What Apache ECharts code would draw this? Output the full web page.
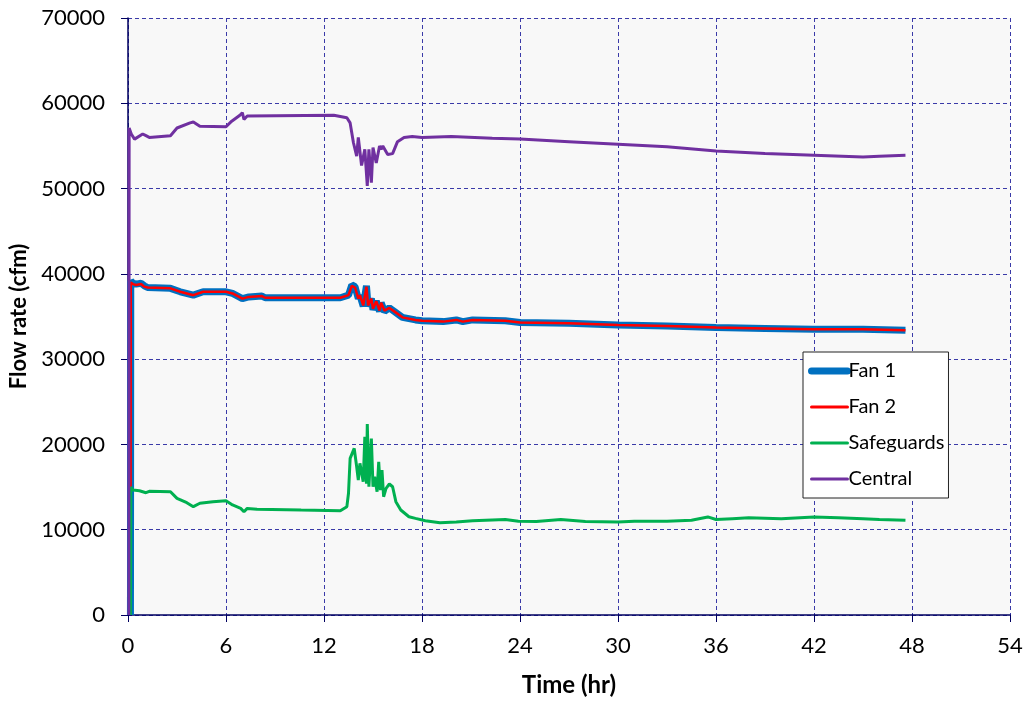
<!DOCTYPE html>
<html>
<head>
<meta charset="utf-8">
<script src="https://cdn.jsdelivr.net/npm/echarts@6/dist/echarts.min.js"></script>
<style>html,body{margin:0;padding:0;background:#fff}#c{width:1027px;height:703px}</style>
</head>
<body>
<div id="c"></div>
<script>
const seriesNames = ['Fan 1', 'Fan 2', 'Safeguards', 'Central'];
const xTicks = [0, 6, 12, 18, 24, 30, 36, 42, 48, 54];
const yTicks = [0, 10000, 20000, 30000, 40000, 50000, 60000, 70000];

const fanT = [0.15, 0.17, 0.3, 0.5, 0.8, 1.0, 1.2, 2.6, 3.2, 4.0, 4.6, 6.0, 6.4, 7.0, 7.4, 8.2, 8.4, 13.0, 13.5, 13.7, 13.9, 14.1, 14.2, 14.4, 14.6, 14.7, 14.9, 15.0, 15.2, 15.4, 15.5, 15.7, 16.0, 16.3, 16.8, 17.6, 18.0, 19.3, 20.1, 20.5, 21.1, 23.1, 24, 27, 30, 33, 36, 39, 42, 45, 47.6];
const fan1V = [0, 39200, 38900, 38800, 38900, 38600, 38400, 38300, 37900, 37500, 37900, 37900, 37700, 37100, 37300, 37400, 37200, 37200, 37500, 38700, 38500, 37100, 37500, 36200, 38600, 36200, 37100, 35800, 36800, 35600, 36600, 35600, 36000, 35600, 34900, 34600, 34500, 34400, 34600, 34400, 34600, 34500, 34300, 34200, 34000, 33900, 33700, 33600, 33500, 33500, 33400];
const fan2V = [0, 39000, 38800, 38700, 38800, 38500, 38400, 38300, 37900, 37500, 37900, 37900, 37700, 37100, 37300, 37400, 37200, 37200, 37500, 38600, 38400, 37100, 37500, 36300, 38500, 36300, 37100, 35900, 36800, 35700, 36600, 35700, 36000, 35600, 34900, 34600, 34500, 34400, 34600, 34400, 34600, 34500, 34300, 34200, 34000, 33900, 33700, 33600, 33500, 33500, 33400];

const sgT = [0.15, 0.17, 0.3, 0.7, 1.1, 1.3, 2.6, 3.0, 3.6, 4.0, 4.4, 5.2, 6.0, 6.4, 6.9, 7.1, 7.3, 7.9, 10.6, 13.0, 13.4, 13.5, 13.6, 13.85, 14.0, 14.1, 14.2, 14.3, 14.4, 14.5, 14.6, 14.65, 14.75, 14.9, 15.0, 15.1, 15.25, 15.35, 15.45, 15.55, 15.65, 15.8, 16.0, 16.2, 16.4, 16.7, 17.2, 17.6, 18.2, 19.1, 20.1, 21.1, 23.1, 23.9, 25, 26.5, 28, 30, 31, 33, 34.5, 35.5, 36, 37, 38, 40, 42, 43.5, 45, 46, 47.6];
const sgV = [0, 15000, 14650, 14570, 14340, 14500, 14460, 13680, 13170, 12700, 13100, 13290, 13400, 12900, 12500, 12100, 12500, 12400, 12300, 12230, 12700, 14270, 18370, 19540, 17380, 15830, 17780, 18000, 15630, 20900, 15400, 22400, 15040, 20700, 15040, 16210, 14460, 17970, 14650, 17000, 13870, 14850, 15360, 15040, 13290, 12310, 11520, 11330, 11050, 10820, 10900, 11050, 11200, 11000, 10950, 11200, 10950, 10900, 11000, 11000, 11100, 11500, 11200, 11300, 11400, 11300, 11500, 11400, 11300, 11200, 11100];

const centralT = [0.05, 0.07, 0.2, 0.4, 0.9, 1.1, 1.3, 2.6, 3.0, 3.8, 4.0, 4.4, 6.0, 6.35, 6.85, 7.0, 7.1, 7.3, 12.6, 13.4, 13.6, 13.8, 14.0, 14.1, 14.3, 14.5, 14.65, 14.75, 14.9, 15.0, 15.2, 15.4, 15.5, 15.6, 15.9, 16.2, 16.5, 16.9, 17.4, 18, 19.8, 22.3, 24, 27, 30, 33, 36, 39, 42, 45, 46, 47.6];
const centralV = [0, 57100, 56400, 55800, 56400, 56200, 56000, 56200, 57100, 57700, 57800, 57300, 57250, 57900, 58600, 58900, 58100, 58500, 58600, 58300, 57700, 55400, 53800, 56000, 52700, 54600, 50300, 54600, 50700, 54800, 53000, 55000, 54600, 55000, 54000, 54100, 55500, 56000, 56100, 56000, 56100, 55900, 55800, 55500, 55200, 54900, 54400, 54100, 53900, 53700, 53800, 53900];

function pairs(t, v) { return t.map((x, i) => [x, v[i]]); }

const FONT = 'Lato, "Open Sans", sans-serif';
const colors = ['#0070C0', '#FF0000', '#00B050', '#7030A0'];
const widths = [7, 2.5, 3, 3];
const chart = echarts.init(document.getElementById('c'), null, {renderer: 'canvas'});
const mk = (i, t, v) => ({
  name: seriesNames[i], type: 'line', data: pairs(t, v), showSymbol: false, symbol: 'none',
  lineStyle: {color: colors[i], width: widths[i]}, itemStyle: {color: colors[i]}, z: 2 + i, animation: false
});
chart.setOption({
  animation: false,
  textStyle: {fontFamily: FONT},
  grid: {left: 128, right: 17, top: 18, bottom: 88, show: true, backgroundColor: '#F8F8F8', borderWidth: 0,
         outerBoundsMode: 'none', containLabel: false},
  xAxis: {
    type: 'value', min: xTicks[0], max: xTicks[xTicks.length - 1], interval: 6,
    name: 'Time (hr)', nameLocation: 'middle', nameGap: 58,
    nameTextStyle: {fontFamily: FONT, fontSize: 24, fontWeight: 'bold', color: '#000'},
    axisLine: {show: true, onZero: false, lineStyle: {color: '#000060', width: 1.5}},
    axisTick: {show: true, inside: false, length: 7, lineStyle: {color: '#000060'}},
    axisLabel: {fontFamily: FONT, fontSize: 22, color: '#000', margin: 20},
    splitLine: {show: true, lineStyle: {color: '#3A3AA8', type: [4, 3], width: 1}}
  },
  yAxis: {
    type: 'value', min: yTicks[0], max: yTicks[yTicks.length - 1], interval: 10000,
    name: 'Flow rate (cfm)', nameLocation: 'middle', nameGap: 98, nameRotate: 90,
    nameTextStyle: {fontFamily: FONT, fontSize: 22, fontWeight: 'bold', color: '#000'},
    axisLine: {show: true, lineStyle: {color: '#000060', width: 1.5}},
    axisTick: {show: true, inside: false, length: 7, lineStyle: {color: '#000060'}},
    axisLabel: {fontFamily: FONT, fontSize: 22, color: '#000', margin: 23, formatter: v => String(v)},
    splitLine: {show: true, lineStyle: {color: '#3A3AA8', type: [4, 3], width: 1}}
  },
  legend: {
    data: seriesNames.map((n, i) => ({name: n, lineStyle: {width: i === 0 ? 7 : 3, color: colors[i], cap: 'round'}})),
    orient: 'vertical', left: 803, top: 352,
    width: 145, itemWidth: 36, itemHeight: 14, itemGap: 16,
    padding: [9, 4, 9, 5],
    itemStyle: {opacity: 0},
    backgroundColor: '#fff', borderColor: '#222', borderWidth: 1,
    textStyle: {fontFamily: FONT, fontSize: 20, color: '#000', padding: [0, 0, 0, -4]}
  },
  series: [
    mk(0, fanT, fan1V),
    mk(1, fanT, fan2V),
    mk(2, sgT, sgV),
    mk(3, centralT, centralV)
  ]
});
</script>
</body>
</html>
